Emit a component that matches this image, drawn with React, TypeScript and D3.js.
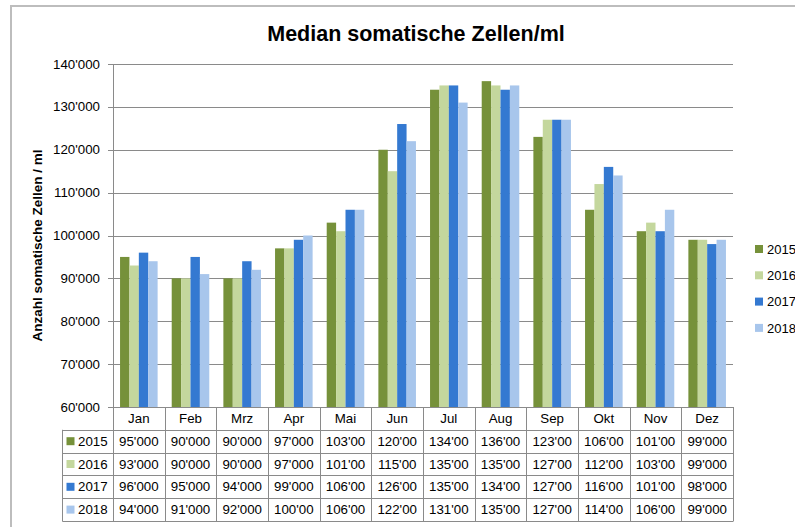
import React from "react";
import * as d3 from "d3";

const months = ["Jan", "Feb", "Mrz", "Apr", "Mai", "Jun", "Jul", "Aug", "Sep", "Okt", "Nov", "Dez"];
const seriesNames = ["2015", "2016", "2017", "2018"];
const s2015 = [95000, 90000, 90000, 97000, 103000, 120000, 134000, 136000, 123000, 106000, 101000, 99000];
const s2016 = [93000, 90000, 90000, 97000, 101000, 115000, 135000, 135000, 127000, 112000, 103000, 99000];
const s2017 = [96000, 95000, 94000, 99000, 106000, 126000, 135000, 134000, 127000, 116000, 101000, 98000];
const s2018 = [94000, 91000, 92000, 100000, 106000, 122000, 131000, 135000, 127000, 114000, 106000, 99000];
const yTicks = [60000, 70000, 80000, 90000, 100000, 110000, 120000, 130000, 140000];
const colors = ["#76913A", "#C4D79D", "#3479D1", "#A8C6EC"];

const allSeries = [s2015, s2016, s2017, s2018];

const W = 795;
const H = 527;
const plotL = 113;
const plotR = 733;
const plotT = 64;
const plotB = 407;
const tableL = 62.5;
const rowH = 22.8;
const FONT = "'Liberation Sans', Arial, sans-serif";
const FS = 13.3;

const fmt = (v: number) => d3.format(",")(v).replace(/,/g, "'");

export default function App() {
  const x0 = d3.scaleBand<string>().domain(months).range([plotL, plotR]).paddingInner(0).paddingOuter(0);
  const bw = x0.bandwidth();
  const barW = bw / 5.5;
  const gap = bw - barW * 4;
  const x1 = d3.scaleBand<string>().domain(seriesNames).range([gap / 2, bw - gap / 2]).padding(0);
  const y = d3.scaleLinear().domain([60000, 140000]).range([plotB, plotT]);

  const headerB = plotB + rowH;
  const tableB = plotB + rowH * 5;

  return (
    <svg width={W} height={H} style={{ position: "absolute", left: 0, top: 0, background: "#fff" }} fontFamily={FONT}>
      <rect x={0} y={0} width={W} height={H} fill="#fff" />
      {/* outer chart border */}
      <line x1={11} y1={6} x2={W} y2={6} stroke="#BDBDBD" strokeWidth={2} />
      <line x1={11} y1={5} x2={11} y2={H} stroke="#BDBDBD" strokeWidth={2} />

      {/* title */}
      <text x={416} y={41} textAnchor="middle" fontSize={21.5} fontWeight="bold" fill="#000">
        Median somatische Zellen/ml
      </text>

      {/* gridlines */}
      {yTicks.map((t) => (
        <g key={t}>
          <line x1={plotL - 5} x2={plotR} y1={Math.round(y(t)) + 0.5} y2={Math.round(y(t)) + 0.5} stroke="#8A8A8A" strokeWidth={1} />
          <text x={100} y={y(t) + 4.6} textAnchor="end" fontSize={FS} fill="#000">
            {fmt(t)}
          </text>
        </g>
      ))}
      <line x1={plotL + 0.5} x2={plotL + 0.5} y1={plotT} y2={tableB} stroke="#8A8A8A" strokeWidth={1} />

      {/* y axis title */}
      <text
        transform={`translate(42,${(plotT + plotB) / 2 + 10}) rotate(-90)`}
        textAnchor="middle"
        fontSize={13.5}
        fontWeight="bold"
        fill="#000"
      >
        Anzahl somatische Zellen / ml
      </text>

      {/* bars */}
      {allSeries.map((s, si) => (
        <g key={seriesNames[si]} fill={colors[si]}>
          {s.map((v, mi) => (
            <rect
              key={mi}
              x={(x0(months[mi]) as number) + (x1(seriesNames[si]) as number)}
              y={y(v)}
              width={x1.bandwidth()}
              height={plotB - y(v)}
            />
          ))}
        </g>
      ))}

      {/* data table */}
      <g stroke="#8A8A8A" strokeWidth={1}>
        {[0, 1, 2, 3, 4, 5].map((r) => (
          <line
            key={r}
            x1={r === 0 ? plotL : tableL}
            x2={plotR}
            y1={Math.round(plotB + rowH * r) + 0.5}
            y2={Math.round(plotB + rowH * r) + 0.5}
          />
        ))}
        {months.map((m) => (
          <line key={m} x1={Math.round(x0(m) as number) + 0.5} x2={Math.round(x0(m) as number) + 0.5} y1={plotB} y2={tableB} />
        ))}
        <line x1={plotR + 0.5} x2={plotR + 0.5} y1={plotB} y2={tableB + 0.5} />
        <line x1={tableL} x2={tableL} y1={headerB} y2={tableB + 0.5} />
      </g>
      {months.map((m) => (
        <text key={m} x={(x0(m) as number) + bw / 2} y={plotB + rowH / 2 + 4.6} textAnchor="middle" fontSize={FS} fill="#000">
          {m}
        </text>
      ))}
      {allSeries.map((s, si) => {
        const cy = headerB + rowH * si + rowH / 2;
        return (
          <g key={si}>
            <rect x={66.5} y={cy - 4} width={8} height={8} fill={colors[si]} />
            <text x={78} y={cy + 4.6} fontSize={FS} fill="#000">
              {seriesNames[si]}
            </text>
            {s.map((v, mi) => (
              <text key={mi} x={(x0(months[mi]) as number) + bw / 2} y={cy + 4.6} textAnchor="middle" fontSize={FS} fill="#000">
                {fmt(v).slice(0, 6)}
              </text>
            ))}
          </g>
        );
      })}

      {/* legend */}
      {seriesNames.map((n, i) => {
        const cy = 249 + i * 26.3;
        return (
          <g key={n}>
            <rect x={755} y={cy - 4} width={8} height={8} fill={colors[i]} />
            <text x={767} y={cy + 4.6} fontSize={13} fill="#000">
              {n}
            </text>
          </g>
        );
      })}
    </svg>
  );
}
